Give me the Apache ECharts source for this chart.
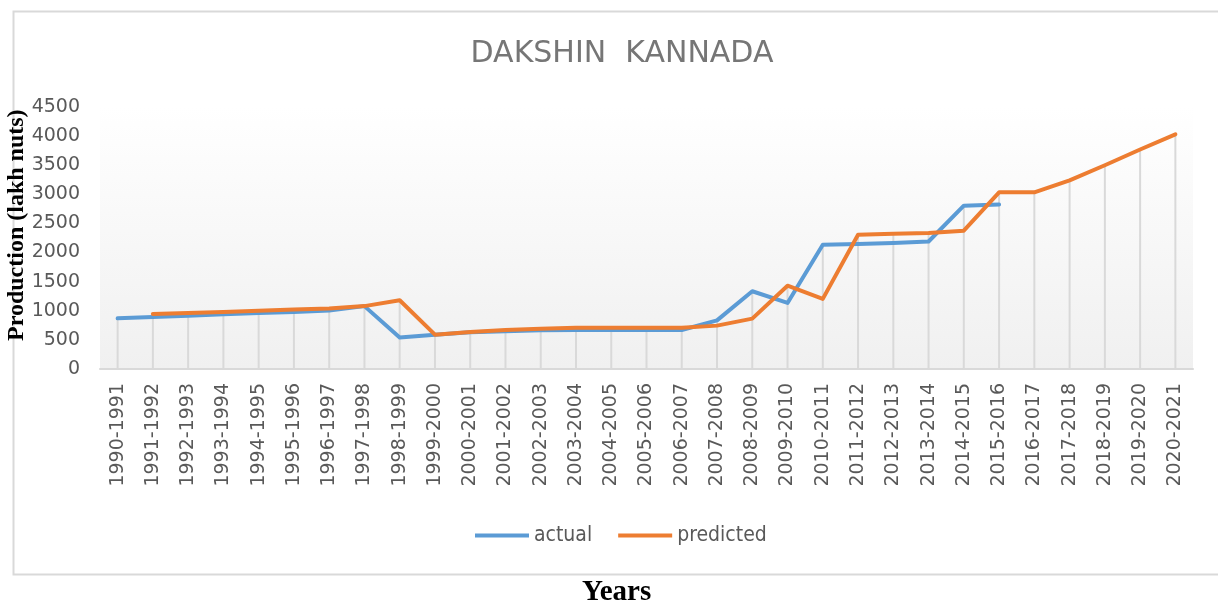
<!DOCTYPE html>
<html>
<head>
<meta charset="utf-8">
<script src="https://cdn.jsdelivr.net/npm/echarts@6/dist/echarts.min.js"></script>
<style>
  html, body { margin: 0; padding: 0; background: #fff; }
  #chart { width: 1218px; height: 609px; }
</style>
</head>
<body>
<div id="chart"></div>
<script>
const years = [
  '1990-1991', '1991-1992', '1992-1993', '1993-1994', '1994-1995', '1995-1996',
  '1996-1997', '1997-1998', '1998-1999', '1999-2000', '2000-2001', '2001-2002',
  '2002-2003', '2003-2004', '2004-2005', '2005-2006', '2006-2007', '2007-2008',
  '2008-2009', '2009-2010', '2010-2011', '2011-2012', '2012-2013', '2013-2014',
  '2014-2015', '2015-2016', '2016-2017', '2017-2018', '2018-2019', '2019-2020',
  '2020-2021'
]

const actual = [
  870, 893, 916, 939, 960, 980, 1005, 1080, 540, 590,
  630, 650, 665, 670, 670, 670, 670, 835, 1335, 1135,
  2135, 2145, 2165, 2190, 2805, 2825, null, null, null, null, null
]

const predicted = [
  null, 945, 962, 980, 1000, 1020, 1040, 1080, 1180, 590,
  635, 670, 692, 710, 710, 710, 710, 745, 865, 1430,
  1205, 2305, 2325, 2335, 2375, 3035, 3035, 3240, 3500, 3770, 4030
]

const yTicks = [0, 500, 1000, 1500, 2000, 2500, 3000, 3500, 4000, 4500]

// drop lines go from the higher of the two points down to the axis
const dropLines = years.map((_, i) => Math.max(actual[i] || 0, predicted[i] || 0))

const chart = echarts.init(document.getElementById('chart'))

const option = {
  backgroundColor: '#fff',
  animation: false,
  title: {
    text: 'DAKSHIN  KANNADA',
    left: 617,
    top: 34,
    textAlign: 'center',
    textStyle: {
      fontFamily: 'DejaVu Sans',
      fontWeight: 'normal',
      fontSize: 30,
      color: '#767676'
    }
  },
  legend: {
    data: ['actual', 'predicted'],
    left: 470,
    top: 520,
    icon: 'rect',
    itemWidth: 54,
    itemHeight: 4,
    itemGap: 26,
    textStyle: {
      fontFamily: 'Liberation Sans Narrow, DejaVu Sans Condensed, sans-serif',
      fontSize: 21,
      color: '#595959'
    }
  },
  graphic: [
    {
      type: 'rect',
      left: 11,
      top: 9,
      shape: { width: 1230, height: 563 },
      style: { fill: 'none', stroke: '#d9d9d9', lineWidth: 2 },
      z: -1
    },
    {
      type: 'text',
      x: 5,
      y: 341,
      rotation: Math.PI / 2,
      style: {
        text: 'Production (lakh nuts)',
        font: 'bold 24px "Liberation Serif"',
        fill: '#000'
      }
    },
    {
      type: 'text',
      left: 582,
      top: 578,
      style: {
        text: 'Years',
        font: 'bold 29px "Liberation Serif"',
        fill: '#000'
      }
    }
  ],
  grid: {
    left: 100,
    right: 25,
    top: 107,
    bottom: 240,
    show: true,
    borderWidth: 0,
    backgroundColor: new echarts.graphic.LinearGradient(0, 0, 0, 1, [
      { offset: 0, color: '#ffffff' },
      { offset: 1, color: '#f0f0f0' }
    ])
  },
  xAxis: {
    type: 'category',
    data: years,
    boundaryGap: true,
    axisLine: { lineStyle: { color: '#d9d9d9', width: 2 } },
    axisTick: { show: false },
    axisLabel: {
      rotate: 90,
      interval: 0,
      margin: 14,
      fontFamily: 'DejaVu Sans',
      fontSize: 19,
      color: '#595959'
    }
  },
  yAxis: {
    type: 'value',
    min: yTicks[0],
    max: yTicks[yTicks.length - 1],
    interval: 500,
    axisLine: { show: false },
    axisTick: { show: false },
    splitLine: { show: false },
    axisLabel: {
      margin: 20,
      fontFamily: 'DejaVu Sans',
      fontSize: 19,
      color: '#595959',
      formatter: v => String(v)
    }
  },
  series: [
    {
      name: 'drop',
      type: 'bar',
      data: dropLines,
      barWidth: 2,
      itemStyle: { color: '#d9d9d9' },
      silent: true,
      z: 1
    },
    {
      name: 'actual',
      type: 'line',
      data: actual,
      symbol: 'none',
      lineStyle: { color: '#5b9bd5', width: 4, join: 'round', cap: 'round' },
      itemStyle: { color: '#5b9bd5' },
      z: 3
    },
    {
      name: 'predicted',
      type: 'line',
      data: predicted,
      symbol: 'none',
      lineStyle: { color: '#ed7d31', width: 4, join: 'round', cap: 'round' },
      itemStyle: { color: '#ed7d31' },
      z: 4
    }
  ]
}

chart.setOption(option)
</script>
</body>
</html>
